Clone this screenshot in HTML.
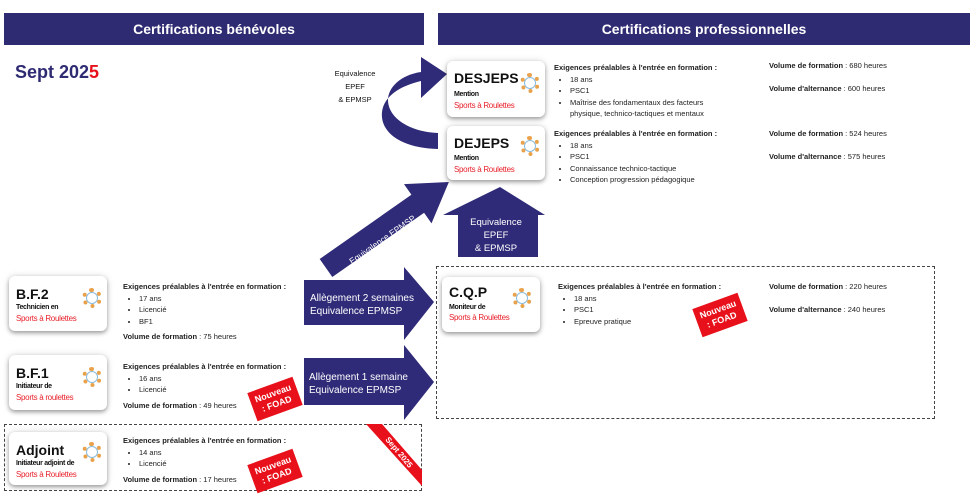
<!DOCTYPE html>
<html><head><meta charset="utf-8"><style>
body{margin:0;width:980px;height:495px;background:#fff;font-family:"Liberation Sans",sans-serif;position:relative;overflow:hidden}
.a{position:absolute}
.hd{background:#2f2b73;color:#fff;font-weight:bold;font-size:14px;text-align:center;line-height:32px}
.card{position:absolute;background:#fff;border-radius:6px;box-shadow:0 2px 4px rgba(0,0,0,.35),0 0 8px rgba(0,0,0,.12)}
.card .t{position:absolute;left:7px;font-weight:bold;color:#111}
.card .s{position:absolute;left:7px;font-size:7px;font-weight:bold;color:#111;letter-spacing:-.3px}
.card .r{position:absolute;left:7px;font-size:8px;color:#e8202a;letter-spacing:-.3px}
.logo{position:absolute;width:12px;height:12px;border-radius:50%;border:4px dotted #e9a24a;box-shadow:0 0 0 1px #8bd inset}
.tx{position:absolute;font-size:7.5px;color:#222;line-height:11.5px}
.tx b{font-weight:bold}
.tx ul{margin:0;padding-left:16px}
.tx li{margin:0}
.dash{position:absolute;border:1px dashed #444}
.st{position:absolute;background:#e8101a;color:#fff;font-weight:bold;font-size:9px;text-align:center;line-height:11px;padding:4px 3px;transform:rotate(-20deg)}
</style></head><body>
<div class="a hd" style="left:4px;top:13px;width:420px;height:32px">Certifications bénévoles</div>
<div class="a hd" style="left:438px;top:13px;width:532px;height:32px">Certifications professionnelles</div>
<div class="a" style="left:15px;top:62px;font-size:18px;font-weight:bold;color:#2f2b73">Sept 202<span style="color:#e8101a">5</span></div>

<div class="dash" style="left:436px;top:266px;width:497px;height:151px"></div>
<div class="dash" style="left:4px;top:424px;width:416px;height:65px"></div>

<svg class="a" style="left:0;top:0" width="980" height="495">
<g fill="#2f2b78">
<path d="M438,149 C400,148 380,132 382,112 C384,96 400,86 421,81 L421,98 L447,74 L421,57 L421,72 C400,75 388,88 388,100 C388,118 410,132 438,133 Z"/>
<g transform="translate(326,268) rotate(-35)"><rect x="0" y="-11" width="118" height="22"/><polygon points="112,-24 150,0 112,24"/></g>
<polygon points="500,187 545,215 538,215 538,257 458,257 458,215 443,215"/>
<polygon points="304,280 404,280 404,267 434,302 404,340 404,325 304,325"/>
<polygon points="304,358 404,358 404,345 434,382 404,420 404,405 304,405"/>
</g>
<polygon points="366,424 382,424 422,470 422,486" fill="#e8101a"/>
<text x="0" y="0" transform="translate(397,454) rotate(50)" fill="#fff" font-size="8" font-weight="bold" text-anchor="middle" font-family="Liberation Sans">Sept 2025</text>
<text transform="translate(384,242) rotate(-35)" fill="#fff" font-size="8.5" font-family="Liberation Sans" text-anchor="middle">Equivalence EPMSP</text>
<g fill="#fff" font-size="9.5" font-family="Liberation Sans" text-anchor="middle"><text x="496" y="225">Equivalence</text><text x="496" y="238">EPEF</text><text x="496" y="251">&amp; EPMSP</text></g>
<g fill="#fff" font-size="10" font-family="Liberation Sans"><text x="310" y="301">Allègement 2 semaines</text><text x="310" y="314">Equivalence EPMSP</text><text x="309" y="380">Allègement 1 semaine</text><text x="309" y="393">Equivalence EPMSP</text></g>
<g fill="#111" font-size="7.5" font-family="Liberation Sans" text-anchor="middle"><text x="355" y="76">Equivalence</text><text x="355" y="89">EPEF</text><text x="355" y="102">&amp; EPMSP</text></g>
</svg>

<div class="card" style="left:447px;top:61px;width:98px;height:56px"><div class="t" style="top:9px;font-size:14px">DESJEPS</div><div class="s" style="top:30px">Mention</div><div class="r" style="top:40px">Sports à Roulettes</div><div class="logo" style="left:73px;top:12px"></div></div>
<div class="card" style="left:447px;top:126px;width:98px;height:54px"><div class="t" style="top:9px;font-size:14px">DEJEPS</div><div class="s" style="top:29px">Mention</div><div class="r" style="top:39px">Sports à Roulettes</div><div class="logo" style="left:73px;top:10px"></div></div>
<div class="card" style="left:442px;top:277px;width:98px;height:55px"><div class="t" style="top:7px;font-size:14px">C.Q.P</div><div class="s" style="top:27px">Moniteur de</div><div class="r" style="top:36px">Sports à Roulettes</div><div class="logo" style="left:70px;top:11px"></div></div>
<div class="card" style="left:9px;top:276px;width:98px;height:55px"><div class="t" style="top:10px;font-size:14px">B.F.2</div><div class="s" style="top:28px">Technicien en</div><div class="r" style="top:38px">Sports à Roulettes</div><div class="logo" style="left:73px;top:12px"></div></div>
<div class="card" style="left:9px;top:355px;width:98px;height:55px"><div class="t" style="top:10px;font-size:14px">B.F.1</div><div class="s" style="top:28px">Initiateur de</div><div class="r" style="top:38px">Sports à roulettes</div><div class="logo" style="left:73px;top:12px"></div></div>
<div class="card" style="left:9px;top:432px;width:98px;height:53px"><div class="t" style="top:10px;font-size:14px">Adjoint</div><div class="s" style="top:28px">Initiateur adjoint de</div><div class="r" style="top:38px">Sports à Roulettes</div><div class="logo" style="left:73px;top:10px"></div></div>

<div class="tx" style="left:554px;top:62px"><b>Exigences préalables à l'entrée en formation :</b><ul><li>18 ans</li><li>PSC1</li><li>Maîtrise des fondamentaux des facteurs<br>physique, technico-tactiques et mentaux</li></ul></div>
<div class="tx" style="left:554px;top:128px"><b>Exigences préalables à l'entrée en formation :</b><ul><li>18 ans</li><li>PSC1</li><li>Connaissance technico-tactique</li><li>Conception progression pédagogique</li></ul></div>
<div class="tx" style="left:769px;top:60px"><b>Volume de formation</b> : 680 heures<br><br style="line-height:7px"><b>Volume d'alternance</b> : 600 heures</div>
<div class="tx" style="left:769px;top:128px"><b>Volume de formation</b> : 524 heures<br><br style="line-height:7px"><b>Volume d'alternance</b> : 575 heures</div>
<div class="tx" style="left:558px;top:281px"><b>Exigences préalables à l'entrée en formation :</b><ul><li>18 ans</li><li>PSC1</li><li>Epreuve pratique</li></ul></div>
<div class="tx" style="left:769px;top:281px"><b>Volume de formation</b> : 220 heures<br><br style="line-height:7px"><b>Volume d'alternance</b> : 240 heures</div>
<div class="tx" style="left:123px;top:281px"><b>Exigences préalables à l'entrée en formation :</b><ul><li>17 ans</li><li>Licencié</li><li>BF1</li></ul><div style="margin-top:4px"><b>Volume de formation</b> : 75 heures</div></div>
<div class="tx" style="left:123px;top:361px"><b>Exigences préalables à l'entrée en formation :</b><ul><li>16 ans</li><li>Licencié</li></ul><div style="margin-top:4px"><b>Volume de formation</b> : 49 heures</div></div>
<div class="tx" style="left:123px;top:435px"><b>Exigences préalables à l'entrée en formation :</b><ul><li>14 ans</li><li>Licencié</li></ul><div style="margin-top:4px"><b>Volume de formation</b> : 17 heures</div></div>

<div class="st" style="left:251px;top:384px;width:42px">Nouveau<br>: FOAD</div>
<div class="st" style="left:251px;top:456px;width:42px">Nouveau<br>: FOAD</div>
<div class="st" style="left:696px;top:300px;width:42px">Nouveau<br>: FOAD</div>
</body></html>
